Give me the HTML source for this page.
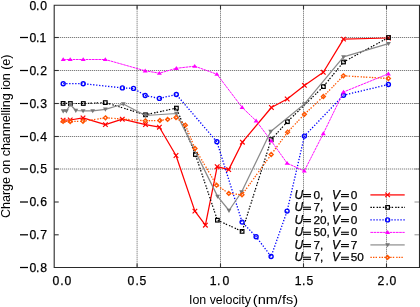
<!DOCTYPE html><html><head><meta charset="utf-8"><style>html,body{margin:0;padding:0;background:#fff;overflow:hidden;}svg{display:block;will-change:transform;}text{font-family:"Liberation Sans",sans-serif;}.b{stroke:#000;stroke-width:0.25px;}</style></head><body>
<svg width="420" height="307" viewBox="0 0 420 307">
<rect width="420" height="307" fill="#fff"/>
<g stroke="#606060" stroke-width="1" stroke-dasharray="1 1"><line x1="54.2" y1="37.50" x2="419.5" y2="37.50"/><line x1="54.2" y1="70.50" x2="419.5" y2="70.50"/><line x1="54.2" y1="103.50" x2="419.5" y2="103.50"/><line x1="54.2" y1="136.50" x2="419.5" y2="136.50"/><line x1="54.2" y1="169.00" x2="419.5" y2="169.00"/><line x1="137.1" y1="5.3" x2="137.1" y2="267.5"/><line x1="220.5" y1="5.3" x2="220.5" y2="267.5"/><line x1="303.5" y1="5.3" x2="303.5" y2="267.5"/><line x1="386.5" y1="5.3" x2="386.5" y2="267.5"/></g>
<g stroke="#333" stroke-width="1.1"><line x1="54.2" y1="37.50" x2="58.7" y2="37.50"/><line x1="419.5" y1="37.50" x2="414.5" y2="37.50" stroke="#888" stroke-width="0.9"/><line x1="54.2" y1="70.50" x2="58.7" y2="70.50"/><line x1="419.5" y1="70.50" x2="414.5" y2="70.50" stroke="#888" stroke-width="0.9"/><line x1="54.2" y1="103.50" x2="58.7" y2="103.50"/><line x1="419.5" y1="103.50" x2="414.5" y2="103.50" stroke="#888" stroke-width="0.9"/><line x1="54.2" y1="136.50" x2="58.7" y2="136.50"/><line x1="419.5" y1="136.50" x2="414.5" y2="136.50" stroke="#888" stroke-width="0.9"/><line x1="54.2" y1="169.00" x2="58.7" y2="169.00"/><line x1="419.5" y1="169.00" x2="414.5" y2="169.00" stroke="#888" stroke-width="0.9"/><line x1="54.2" y1="202.00" x2="58.7" y2="202.00"/><line x1="419.5" y1="202.00" x2="414.5" y2="202.00" stroke="#888" stroke-width="0.9"/><line x1="54.2" y1="234.80" x2="58.7" y2="234.80"/><line x1="419.5" y1="234.80" x2="414.5" y2="234.80" stroke="#888" stroke-width="0.9"/><line x1="137.1" y1="267.5" x2="137.1" y2="263.5"/><line x1="137.1" y1="5.3" x2="137.1" y2="9.3"/><line x1="220.5" y1="267.5" x2="220.5" y2="263.5"/><line x1="220.5" y1="5.3" x2="220.5" y2="9.3"/><line x1="303.5" y1="267.5" x2="303.5" y2="263.5"/><line x1="303.5" y1="5.3" x2="303.5" y2="9.3"/><line x1="386.5" y1="267.5" x2="386.5" y2="263.5"/><line x1="386.5" y1="5.3" x2="386.5" y2="9.3"/></g>
<polyline points="63.1,120.2 70.2,120.0 83.0,117.9 105.4,124.6 122.3,119.2 145.5,124.6 159.4,127.2 176.0,155.5 194.9,211.1 205.4,225.2 217.2,166.7 228.7,169.6 242.4,142.2 271.4,107.5 287.2,99.0 304.4,85.4 323.3,72.3 343.5,39.1 388.4,38.0" fill="none" stroke="#ff0000" stroke-width="1.25" stroke-linejoin="round"/>
<path d="M60.8,117.9L65.4,122.5M60.8,122.5L65.4,117.9" stroke="#ff0000" stroke-width="1.2" fill="none"/><path d="M67.9,117.7L72.5,122.3M67.9,122.3L72.5,117.7" stroke="#ff0000" stroke-width="1.2" fill="none"/><path d="M80.7,115.6L85.3,120.2M80.7,120.2L85.3,115.6" stroke="#ff0000" stroke-width="1.2" fill="none"/><path d="M103.1,122.3L107.7,126.9M103.1,126.9L107.7,122.3" stroke="#ff0000" stroke-width="1.2" fill="none"/><path d="M120.0,116.9L124.6,121.5M120.0,121.5L124.6,116.9" stroke="#ff0000" stroke-width="1.2" fill="none"/><path d="M143.2,122.3L147.8,126.9M143.2,126.9L147.8,122.3" stroke="#ff0000" stroke-width="1.2" fill="none"/><path d="M157.1,124.9L161.7,129.5M157.1,129.5L161.7,124.9" stroke="#ff0000" stroke-width="1.2" fill="none"/><path d="M173.7,153.2L178.3,157.8M173.7,157.8L178.3,153.2" stroke="#ff0000" stroke-width="1.2" fill="none"/><path d="M192.6,208.8L197.2,213.4M192.6,213.4L197.2,208.8" stroke="#ff0000" stroke-width="1.2" fill="none"/><path d="M203.1,222.9L207.7,227.5M203.1,227.5L207.7,222.9" stroke="#ff0000" stroke-width="1.2" fill="none"/><path d="M214.9,164.4L219.5,169.0M214.9,169.0L219.5,164.4" stroke="#ff0000" stroke-width="1.2" fill="none"/><path d="M226.4,167.3L231.0,171.9M226.4,171.9L231.0,167.3" stroke="#ff0000" stroke-width="1.2" fill="none"/><path d="M240.1,139.9L244.7,144.5M240.1,144.5L244.7,139.9" stroke="#ff0000" stroke-width="1.2" fill="none"/><path d="M269.1,105.2L273.7,109.8M269.1,109.8L273.7,105.2" stroke="#ff0000" stroke-width="1.2" fill="none"/><path d="M284.9,96.7L289.5,101.3M284.9,101.3L289.5,96.7" stroke="#ff0000" stroke-width="1.2" fill="none"/><path d="M302.1,83.1L306.7,87.7M302.1,87.7L306.7,83.1" stroke="#ff0000" stroke-width="1.2" fill="none"/><path d="M321.0,70.0L325.6,74.6M321.0,74.6L325.6,70.0" stroke="#ff0000" stroke-width="1.2" fill="none"/><path d="M341.2,36.8L345.8,41.4M341.2,41.4L345.8,36.8" stroke="#ff0000" stroke-width="1.2" fill="none"/><path d="M386.1,35.7L390.7,40.3M386.1,40.3L390.7,35.7" stroke="#ff0000" stroke-width="1.2" fill="none"/>
<polyline points="63.1,103.4 70.4,103.5 83.3,103.5 105.3,102.6 145.5,114.8 176.4,108.1 195.4,154.5 217.4,220.2 242.1,231.4 271.2,139.6 287.4,121.7 323.4,86.6 343.5,62.0 388.5,37.5" fill="none" stroke="#000" stroke-width="1.2" stroke-dasharray="1.5 1.1 1.5 2.1" stroke-linejoin="round"/>
<rect x="61.3" y="101.6" width="3.6" height="3.6" stroke="#000" stroke-width="1.2" fill="none"/><rect x="68.6" y="101.7" width="3.6" height="3.6" stroke="#000" stroke-width="1.2" fill="none"/><rect x="81.5" y="101.7" width="3.6" height="3.6" stroke="#000" stroke-width="1.2" fill="none"/><rect x="103.5" y="100.8" width="3.6" height="3.6" stroke="#000" stroke-width="1.2" fill="none"/><rect x="143.7" y="113.0" width="3.6" height="3.6" stroke="#000" stroke-width="1.2" fill="none"/><rect x="174.6" y="106.3" width="3.6" height="3.6" stroke="#000" stroke-width="1.2" fill="none"/><rect x="193.6" y="152.7" width="3.6" height="3.6" stroke="#000" stroke-width="1.2" fill="none"/><rect x="215.6" y="218.4" width="3.6" height="3.6" stroke="#000" stroke-width="1.2" fill="none"/><rect x="240.3" y="229.6" width="3.6" height="3.6" stroke="#000" stroke-width="1.2" fill="none"/><rect x="269.4" y="137.8" width="3.6" height="3.6" stroke="#000" stroke-width="1.2" fill="none"/><rect x="285.6" y="119.9" width="3.6" height="3.6" stroke="#000" stroke-width="1.2" fill="none"/><rect x="321.6" y="84.8" width="3.6" height="3.6" stroke="#000" stroke-width="1.2" fill="none"/><rect x="341.7" y="60.2" width="3.6" height="3.6" stroke="#000" stroke-width="1.2" fill="none"/><rect x="386.7" y="35.7" width="3.6" height="3.6" stroke="#000" stroke-width="1.2" fill="none"/>
<polyline points="63.2,83.7 83.2,83.7 122.4,87.9 133.5,88.4 145.2,95.5 159.4,98.4 176.3,94.5 216.9,141.8 242.1,222.1 256.1,236.7 271.1,256.5 287.1,211.1 304.4,136.1 343.5,95.2 388.4,84.5" fill="none" stroke="#0000ff" stroke-width="1.3" stroke-dasharray="1.3 1.7" stroke-linejoin="round"/>
<circle cx="63.2" cy="83.7" r="2.0" stroke="#0000ff" stroke-width="1.4" fill="none"/><circle cx="83.2" cy="83.7" r="2.0" stroke="#0000ff" stroke-width="1.4" fill="none"/><circle cx="122.4" cy="87.9" r="2.0" stroke="#0000ff" stroke-width="1.4" fill="none"/><circle cx="133.5" cy="88.4" r="2.0" stroke="#0000ff" stroke-width="1.4" fill="none"/><circle cx="145.2" cy="95.5" r="2.0" stroke="#0000ff" stroke-width="1.4" fill="none"/><circle cx="159.4" cy="98.4" r="2.0" stroke="#0000ff" stroke-width="1.4" fill="none"/><circle cx="176.3" cy="94.5" r="2.0" stroke="#0000ff" stroke-width="1.4" fill="none"/><circle cx="216.9" cy="141.8" r="2.0" stroke="#0000ff" stroke-width="1.4" fill="none"/><circle cx="242.1" cy="222.1" r="2.0" stroke="#0000ff" stroke-width="1.4" fill="none"/><circle cx="256.1" cy="236.7" r="2.0" stroke="#0000ff" stroke-width="1.4" fill="none"/><circle cx="271.1" cy="256.5" r="2.0" stroke="#0000ff" stroke-width="1.4" fill="none"/><circle cx="287.1" cy="211.1" r="2.0" stroke="#0000ff" stroke-width="1.4" fill="none"/><circle cx="304.4" cy="136.1" r="2.0" stroke="#0000ff" stroke-width="1.4" fill="none"/><circle cx="343.5" cy="95.2" r="2.0" stroke="#0000ff" stroke-width="1.4" fill="none"/><circle cx="388.4" cy="84.5" r="2.0" stroke="#0000ff" stroke-width="1.4" fill="none"/>
<polyline points="63.2,59.5 70.2,59.5 83.2,59.5 105.3,59.5 145.2,70.8 159.4,73.2 176.3,68.3 194.7,66.2 216.9,74.2 242.1,107.4 256.1,120.8 271.3,141.0 287.1,163.2 304.3,171.0 323.3,133.6 343.5,92.0 388.4,73.8" fill="none" stroke="#ff00ff" stroke-width="0.95" stroke-dasharray="2.6 0.6" stroke-linejoin="round"/>
<path d="M63.2,57.2L65.7,61.1L60.7,61.1Z" fill="#ff00ff"/><path d="M70.2,57.2L72.7,61.1L67.7,61.1Z" fill="#ff00ff"/><path d="M83.2,57.2L85.7,61.1L80.7,61.1Z" fill="#ff00ff"/><path d="M105.3,57.2L107.8,61.1L102.8,61.1Z" fill="#ff00ff"/><path d="M145.2,68.5L147.7,72.4L142.7,72.4Z" fill="#ff00ff"/><path d="M159.4,70.9L161.9,74.8L156.9,74.8Z" fill="#ff00ff"/><path d="M176.3,66.0L178.8,69.9L173.8,69.9Z" fill="#ff00ff"/><path d="M194.7,63.9L197.2,67.8L192.2,67.8Z" fill="#ff00ff"/><path d="M216.9,71.9L219.4,75.8L214.4,75.8Z" fill="#ff00ff"/><path d="M242.1,105.1L244.6,109.0L239.6,109.0Z" fill="#ff00ff"/><path d="M256.1,118.5L258.6,122.4L253.6,122.4Z" fill="#ff00ff"/><path d="M271.3,138.7L273.8,142.6L268.8,142.6Z" fill="#ff00ff"/><path d="M287.1,160.9L289.6,164.8L284.6,164.8Z" fill="#ff00ff"/><path d="M304.3,168.7L306.8,172.6L301.8,172.6Z" fill="#ff00ff"/><path d="M323.3,131.3L325.8,135.2L320.8,135.2Z" fill="#ff00ff"/><path d="M343.5,89.7L346.0,93.6L341.0,93.6Z" fill="#ff00ff"/><path d="M388.4,71.5L390.9,75.4L385.9,75.4Z" fill="#ff00ff"/>
<polyline points="63.2,111.0 66.4,111.0 70.3,104.5 75.8,110.5 83.1,110.9 92.7,110.9 105.4,109.3 123.3,104.0 145.5,115.5 176.4,113.5 217.6,196.4 229.0,210.5 241.6,192.0 270.7,131.5 304.5,103.9 343.5,56.9 388.5,43.6" fill="none" stroke="#8a8a8a" stroke-width="1.25" stroke-linejoin="round"/>
<path d="M63.2,113.4L65.6,109.3L60.8,109.3Z" fill="#777"/><path d="M66.4,113.4L68.8,109.3L64.0,109.3Z" fill="#777"/><path d="M70.3,106.9L72.7,102.8L67.9,102.8Z" fill="#777"/><path d="M75.8,112.9L78.2,108.8L73.4,108.8Z" fill="#777"/><path d="M83.1,113.3L85.5,109.2L80.7,109.2Z" fill="#777"/><path d="M92.7,113.3L95.1,109.2L90.3,109.2Z" fill="#777"/><path d="M105.4,111.7L107.8,107.6L103.0,107.6Z" fill="#777"/><path d="M123.3,106.4L125.7,102.3L120.9,102.3Z" fill="#777"/><path d="M145.5,117.9L147.9,113.8L143.1,113.8Z" fill="#777"/><path d="M176.4,115.9L178.8,111.8L174.0,111.8Z" fill="#777"/><path d="M217.6,198.8L220.0,194.7L215.2,194.7Z" fill="#777"/><path d="M229.0,212.9L231.4,208.8L226.6,208.8Z" fill="#777"/><path d="M241.6,194.4L244.0,190.3L239.2,190.3Z" fill="#777"/><path d="M270.7,133.9L273.1,129.8L268.3,129.8Z" fill="#777"/><path d="M304.5,106.3L306.9,102.2L302.1,102.2Z" fill="#777"/><path d="M343.5,59.3L345.9,55.2L341.1,55.2Z" fill="#777"/><path d="M388.5,46.0L390.9,41.9L386.1,41.9Z" fill="#777"/>
<polyline points="63.1,121.4 70.2,121.5 83.0,121.3 105.5,117.8 145.4,120.8 159.9,120.5 167.6,119.4 176.0,117.5 185.4,125.2 195.0,148.5 216.6,185.2 228.8,193.4 242.0,194.8 271.2,154.5 287.6,132.2 304.4,114.3 323.4,96.5 343.4,75.8 388.4,78.5" fill="none" stroke="#ff5500" stroke-width="1.3" stroke-dasharray="1.4 1.2 1.4 1.2 1.4 2" stroke-linejoin="round"/>
<path d="M63.1,119.4L65.1,121.4L63.1,123.4L61.1,121.4Z" stroke="#ff5500" stroke-width="1.3" fill="none"/><path d="M70.2,119.5L72.2,121.5L70.2,123.5L68.2,121.5Z" stroke="#ff5500" stroke-width="1.3" fill="none"/><path d="M83.0,119.3L85.0,121.3L83.0,123.3L81.0,121.3Z" stroke="#ff5500" stroke-width="1.3" fill="none"/><path d="M105.5,115.8L107.5,117.8L105.5,119.8L103.5,117.8Z" stroke="#ff5500" stroke-width="1.3" fill="none"/><path d="M145.4,118.8L147.4,120.8L145.4,122.8L143.4,120.8Z" stroke="#ff5500" stroke-width="1.3" fill="none"/><path d="M159.9,118.5L161.9,120.5L159.9,122.5L157.9,120.5Z" stroke="#ff5500" stroke-width="1.3" fill="none"/><path d="M167.6,117.4L169.6,119.4L167.6,121.4L165.6,119.4Z" stroke="#ff5500" stroke-width="1.3" fill="none"/><path d="M176.0,115.5L178.0,117.5L176.0,119.5L174.0,117.5Z" stroke="#ff5500" stroke-width="1.3" fill="none"/><path d="M185.4,123.2L187.4,125.2L185.4,127.2L183.4,125.2Z" stroke="#ff5500" stroke-width="1.3" fill="none"/><path d="M195.0,146.5L197.0,148.5L195.0,150.5L193.0,148.5Z" stroke="#ff5500" stroke-width="1.3" fill="none"/><path d="M216.6,183.2L218.6,185.2L216.6,187.2L214.6,185.2Z" stroke="#ff5500" stroke-width="1.3" fill="none"/><path d="M228.8,191.4L230.8,193.4L228.8,195.4L226.8,193.4Z" stroke="#ff5500" stroke-width="1.3" fill="none"/><path d="M242.0,192.8L244.0,194.8L242.0,196.8L240.0,194.8Z" stroke="#ff5500" stroke-width="1.3" fill="none"/><path d="M271.2,152.5L273.2,154.5L271.2,156.5L269.2,154.5Z" stroke="#ff5500" stroke-width="1.3" fill="none"/><path d="M287.6,130.2L289.6,132.2L287.6,134.2L285.6,132.2Z" stroke="#ff5500" stroke-width="1.3" fill="none"/><path d="M304.4,112.3L306.4,114.3L304.4,116.3L302.4,114.3Z" stroke="#ff5500" stroke-width="1.3" fill="none"/><path d="M323.4,94.5L325.4,96.5L323.4,98.5L321.4,96.5Z" stroke="#ff5500" stroke-width="1.3" fill="none"/><path d="M343.4,73.8L345.4,75.8L343.4,77.8L341.4,75.8Z" stroke="#ff5500" stroke-width="1.3" fill="none"/><path d="M388.4,76.5L390.4,78.5L388.4,80.5L386.4,78.5Z" stroke="#ff5500" stroke-width="1.3" fill="none"/>
<path d="M54.2,5.3H419.5V267.5H54.2Z" fill="none" stroke="#2a2a2a" stroke-width="1.1"/>
<text class="b" x="29.5 35.9 40.3" y="9.7" font-size="12.2" fill="#000">0.0</text>
<text class="b" x="29.5 35.9 39.4" y="41.8" font-size="12.2" fill="#000">0.1</text>
<rect x="20.0" y="36.88" width="8.0" height="1.25" fill="#000"/>
<text class="b" x="29.5 35.9 40.3" y="74.8" font-size="12.2" fill="#000">0.2</text>
<rect x="20.0" y="69.88" width="8.0" height="1.25" fill="#000"/>
<text class="b" x="29.5 35.9 40.3" y="107.8" font-size="12.2" fill="#000">0.3</text>
<rect x="20.0" y="102.88" width="8.0" height="1.25" fill="#000"/>
<text class="b" x="29.5 35.9 40.3" y="140.8" font-size="12.2" fill="#000">0.4</text>
<rect x="20.0" y="135.88" width="8.0" height="1.25" fill="#000"/>
<text class="b" x="29.5 35.9 40.3" y="173.3" font-size="12.2" fill="#000">0.5</text>
<rect x="20.0" y="168.38" width="8.0" height="1.25" fill="#000"/>
<text class="b" x="29.5 35.9 40.3" y="206.3" font-size="12.2" fill="#000">0.6</text>
<rect x="20.0" y="201.38" width="8.0" height="1.25" fill="#000"/>
<text class="b" x="29.5 35.9 40.3" y="239.1" font-size="12.2" fill="#000">0.7</text>
<rect x="20.0" y="234.18" width="8.0" height="1.25" fill="#000"/>
<text class="b" x="29.5 35.9 40.3" y="271.8" font-size="12.2" fill="#000">0.8</text>
<rect x="20.0" y="266.88" width="8.0" height="1.25" fill="#000"/>
<text class="b" x="52.6 60.3 64.6" y="284.5" font-size="12.2" fill="#000">0.0</text>
<text class="b" x="127.6 135.5 139.6" y="284.5" font-size="12.2" fill="#000">0.5</text>
<text class="b" x="209.8 217.1 222.4" y="284.5" font-size="12.2" fill="#000">1.0</text>
<text class="b" x="294.8 302.1 306.5" y="284.5" font-size="12.2" fill="#000">1.5</text>
<text class="b" x="377.5 385.5 389.6" y="284.5" font-size="12.2" fill="#000">2.0</text>
<text x="189.0" y="304.2" font-size="12.4" fill="#000">Ion velocity</text>
<text x="252.8" y="304.2" font-size="12.4" textLength="45.3" lengthAdjust="spacingAndGlyphs" fill="#000">(nm/fs)</text>
<text transform="translate(9.8,218) rotate(-90)" font-size="12.6" textLength="163.5" lengthAdjust="spacing" fill="#000">Charge on channelling ion (e)</text>
<line x1="370.4" y1="194.9" x2="404.7" y2="194.9" stroke="#ff4a4a" stroke-width="1.7"/>
<path d="M385.3,192.6L389.9,197.2M385.3,197.2L389.9,192.6" stroke="#ff0000" stroke-width="1.2" fill="none"/>
<text class="b" x="294.6" y="198.9" font-size="12" font-style="italic" fill="#000">U</text>
<rect x="303.1" y="194.00" width="7.9" height="1.1" fill="#000"/><rect x="303.1" y="196.10" width="7.9" height="1.1" fill="#000"/>
<text class="b" x="313.4" y="198.9" font-size="11.8" fill="#000">0,</text>
<text class="b" x="332.0" y="198.9" font-size="12" font-style="italic" fill="#000">V</text>
<rect x="341.0" y="194.00" width="7.9" height="1.1" fill="#000"/><rect x="341.0" y="196.10" width="7.9" height="1.1" fill="#000"/>
<text class="b" x="350.8" y="198.9" font-size="11.8" fill="#000">0</text>
<line x1="370.4" y1="207.4" x2="404.7" y2="207.4" stroke="#000" stroke-width="1.2" stroke-dasharray="1.5 1.1 1.5 2.1"/>
<rect x="385.8" y="205.6" width="3.6" height="3.6" stroke="#000" stroke-width="1.2" fill="none"/>
<text class="b" x="294.6" y="211.4" font-size="12" font-style="italic" fill="#000">U</text>
<rect x="303.1" y="206.70" width="7.9" height="1.1" fill="#000"/><rect x="303.1" y="208.80" width="7.9" height="1.1" fill="#000"/>
<text class="b" x="313.4" y="211.4" font-size="11.8" fill="#000">7,</text>
<text class="b" x="332.0" y="211.4" font-size="12" font-style="italic" fill="#000">V</text>
<rect x="341.0" y="206.70" width="7.9" height="1.1" fill="#000"/><rect x="341.0" y="208.80" width="7.9" height="1.1" fill="#000"/>
<text class="b" x="350.8" y="211.4" font-size="11.8" fill="#000">0</text>
<line x1="370.4" y1="219.9" x2="404.7" y2="219.9" stroke="#0000ff" stroke-width="1.3" stroke-dasharray="1.3 1.7"/>
<circle cx="387.6" cy="219.9" r="2.0" stroke="#0000ff" stroke-width="1.4" fill="none"/>
<text class="b" x="294.6" y="223.9" font-size="12" font-style="italic" fill="#000">U</text>
<rect x="303.1" y="219.00" width="7.9" height="1.1" fill="#000"/><rect x="303.1" y="221.10" width="7.9" height="1.1" fill="#000"/>
<text class="b" x="313.4" y="223.9" font-size="11.8" fill="#000">20,</text>
<text class="b" x="332.0" y="223.9" font-size="12" font-style="italic" fill="#000">V</text>
<rect x="341.0" y="219.00" width="7.9" height="1.1" fill="#000"/><rect x="341.0" y="221.10" width="7.9" height="1.1" fill="#000"/>
<text class="b" x="350.8" y="223.9" font-size="11.8" fill="#000">0</text>
<line x1="370.4" y1="232.4" x2="404.7" y2="232.4" stroke="#ff00ff" stroke-width="0.95" stroke-dasharray="2.6 0.6"/>
<path d="M387.6,230.1L390.1,234.0L385.1,234.0Z" fill="#ff00ff"/>
<text class="b" x="294.6" y="236.4" font-size="12" font-style="italic" fill="#000">U</text>
<rect x="303.1" y="231.70" width="7.9" height="1.1" fill="#000"/><rect x="303.1" y="233.80" width="7.9" height="1.1" fill="#000"/>
<text class="b" x="313.4" y="236.4" font-size="11.8" fill="#000">50,</text>
<text class="b" x="332.0" y="236.4" font-size="12" font-style="italic" fill="#000">V</text>
<rect x="341.0" y="231.70" width="7.9" height="1.1" fill="#000"/><rect x="341.0" y="233.80" width="7.9" height="1.1" fill="#000"/>
<text class="b" x="350.8" y="236.4" font-size="11.8" fill="#000">0</text>
<line x1="370.4" y1="244.9" x2="404.7" y2="244.9" stroke="#b0b0b0" stroke-width="1.8"/>
<path d="M387.6,247.3L390.0,243.2L385.2,243.2Z" fill="#777"/>
<text class="b" x="294.6" y="248.9" font-size="12" font-style="italic" fill="#000">U</text>
<rect x="303.1" y="244.00" width="7.9" height="1.1" fill="#000"/><rect x="303.1" y="246.10" width="7.9" height="1.1" fill="#000"/>
<text class="b" x="313.4" y="248.9" font-size="11.8" fill="#000">7,</text>
<text class="b" x="332.0" y="248.9" font-size="12" font-style="italic" fill="#000">V</text>
<rect x="341.0" y="244.00" width="7.9" height="1.1" fill="#000"/><rect x="341.0" y="246.10" width="7.9" height="1.1" fill="#000"/>
<text class="b" x="350.8" y="248.9" font-size="11.8" fill="#000">7</text>
<line x1="370.4" y1="257.4" x2="404.7" y2="257.4" stroke="#ff5500" stroke-width="1.3" stroke-dasharray="1.4 1.2 1.4 1.2 1.4 2"/>
<path d="M387.6,255.4L389.6,257.4L387.6,259.4L385.6,257.4Z" stroke="#ff5500" stroke-width="1.3" fill="none"/>
<text class="b" x="294.6" y="261.4" font-size="12" font-style="italic" fill="#000">U</text>
<rect x="303.1" y="256.70" width="7.9" height="1.1" fill="#000"/><rect x="303.1" y="258.80" width="7.9" height="1.1" fill="#000"/>
<text class="b" x="313.4" y="261.4" font-size="11.8" fill="#000">7,</text>
<text class="b" x="332.0" y="261.4" font-size="12" font-style="italic" fill="#000">V</text>
<rect x="341.0" y="256.70" width="7.9" height="1.1" fill="#000"/><rect x="341.0" y="258.80" width="7.9" height="1.1" fill="#000"/>
<text class="b" x="350.8" y="261.4" font-size="11.8" fill="#000">50</text>
</svg></body></html>
